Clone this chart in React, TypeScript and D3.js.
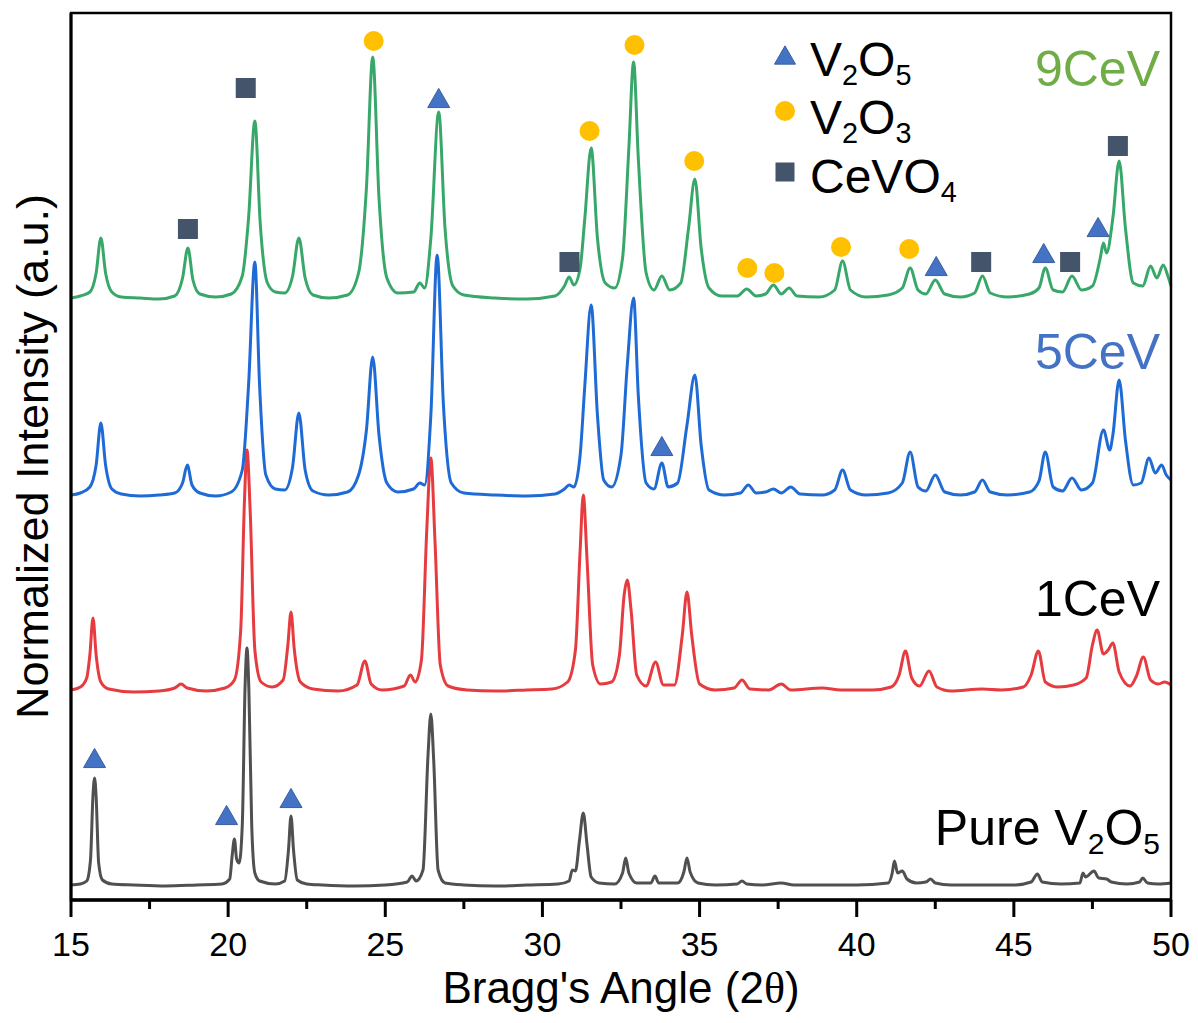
import * as d3 from "d3";

// XRD patterns, intensity in a.u. above each pattern's own baseline
const xTicks = [15, 20, 25, 30, 35, 40, 45, 50];
const xMinor = [17.5, 22.5, 27.5, 32.5, 37.5, 42.5, 47.5];

const names = ["Pure V2O5", "1CeV", "5CeV", "9CeV"];
const offsets = [15, 210, 405, 602];
const lineColors = ["#505050", "#e63c40", "#1f6bd6", "#38a86a"];

const pure = [
  [15.0, 0], [15.3, 1], [15.5, 4], [15.62, 25], [15.7, 90], [15.75, 107], [15.8, 88], [15.88, 22], [16.0, 5], [16.3, 1],
  [17.0, 0], [18.0, -1], [19.0, 0], [19.8, 1], [20.05, 6], [20.13, 30], [20.2, 46], [20.27, 26], [20.35, 22], [20.45, 60],
  [20.54, 200], [20.6, 237], [20.66, 195], [20.75, 60], [20.85, 12], [21.0, 4], [21.5, 1], [21.8, 4], [21.92, 35], [22.0, 69],
  [22.08, 35], [22.2, 5], [22.5, 1], [23.0, 0], [24.0, -1], [25.0, 0], [25.7, 3], [25.85, 9], [25.98, 4], [26.2, 15],
  [26.36, 130], [26.45, 171], [26.54, 125], [26.68, 15], [26.9, 2], [27.5, 0], [28.5, -1], [29.5, 0], [30.5, 1], [30.85, 4],
  [30.95, 15], [31.05, 14], [31.18, 45], [31.3, 72], [31.42, 40], [31.55, 8], [31.8, 2], [32.3, 1], [32.55, 12], [32.65, 27],
  [32.75, 12], [33.0, 2], [33.45, 2], [33.58, 9], [33.7, 2], [34.3, 2], [34.5, 13], [34.6, 27], [34.7, 13], [34.95, 2],
  [35.5, 0], [36.2, 1], [36.35, 4], [36.5, 1], [37.0, 0], [37.6, 2], [38.0, 0], [39.0, 0], [40.0, 0], [41.0, 2],
  [41.13, 12], [41.2, 24], [41.3, 12], [41.45, 14], [41.6, 6], [41.9, 2], [42.2, 3], [42.35, 6], [42.5, 2], [43.0, 0],
  [44.0, 0], [45.0, 0], [45.55, 3], [45.75, 11], [45.9, 3], [46.5, 1], [47.1, 2], [47.2, 12], [47.28, 8], [47.55, 14],
  [47.7, 7], [47.95, 6], [48.1, 3], [48.6, 1], [49.0, 3], [49.1, 7], [49.25, 2], [49.6, 1], [50.0, 2],
];

const ce1 = [
  [15.0, 0], [15.3, 3], [15.5, 12], [15.6, 35], [15.7, 72], [15.8, 35], [15.95, 8], [16.2, 1], [17.0, -2], [17.8, -1],
  [18.3, 2], [18.5, 6], [18.7, 2], [19.3, -1], [19.9, 2], [20.2, 10], [20.4, 60], [20.52, 190], [20.6, 240], [20.7, 180],
  [20.85, 40], [21.05, 8], [21.4, 3], [21.75, 10], [21.9, 45], [22.0, 78], [22.1, 42], [22.3, 8], [22.7, 1], [23.5, -1],
  [24.1, 5], [24.35, 29], [24.55, 6], [24.9, 0], [25.6, 4], [25.8, 15], [25.95, 8], [26.15, 30], [26.32, 160], [26.45, 232],
  [26.58, 150], [26.75, 25], [27.0, 4], [27.6, 0], [28.5, -1], [29.5, 0], [30.3, 1], [30.8, 8], [31.05, 40], [31.2, 140],
  [31.3, 195], [31.42, 130], [31.6, 25], [31.85, 6], [32.2, 8], [32.45, 35], [32.6, 95], [32.7, 110], [32.82, 80], [33.0, 15],
  [33.3, 4], [33.6, 28], [33.85, 5], [34.2, 5], [34.45, 55], [34.6, 98], [34.75, 55], [35.0, 6], [35.5, 0], [36.1, 2],
  [36.35, 10], [36.6, 1], [37.2, 0], [37.6, 6], [37.9, 0], [38.9, 2], [39.5, 0], [40.5, 0], [41.1, 3], [41.35, 15],
  [41.55, 39], [41.75, 12], [42.0, 4], [42.3, 19], [42.55, 3], [43.0, -1], [44.0, 1], [44.6, 0], [45.3, 3], [45.55, 15],
  [45.78, 39], [46.0, 8], [46.4, 3], [46.9, 5], [47.3, 12], [47.5, 45], [47.65, 60], [47.85, 36], [48.0, 40], [48.15, 47],
  [48.35, 18], [48.7, 4], [48.9, 14], [49.12, 33], [49.35, 10], [49.6, 6], [49.8, 8], [50.0, 5],
];

const ce5 = [
  [15.0, 0], [15.3, 2], [15.6, 8], [15.8, 30], [15.95, 72], [16.1, 30], [16.3, 6], [16.6, 1], [17.2, -1], [17.8, 0],
  [18.3, 2], [18.55, 12], [18.7, 30], [18.85, 10], [19.1, 2], [19.6, -1], [20.1, 3], [20.45, 25], [20.65, 110], [20.85, 233],
  [21.0, 110], [21.2, 20], [21.5, 6], [21.8, 5], [22.05, 28], [22.25, 82], [22.45, 25], [22.7, 4], [23.2, 0], [23.8, 3],
  [24.15, 20], [24.4, 65], [24.6, 138], [24.8, 60], [25.05, 12], [25.4, 3], [25.9, 6], [26.1, 12], [26.25, 10], [26.45, 80],
  [26.65, 240], [26.85, 90], [27.1, 12], [27.5, 2], [28.5, 0], [29.5, -1], [30.4, 1], [30.7, 6], [30.85, 10], [31.0, 8],
  [31.2, 40], [31.35, 110], [31.55, 190], [31.75, 80], [31.95, 15], [32.2, 8], [32.5, 40], [32.7, 130], [32.9, 197], [33.05, 100],
  [33.3, 12], [33.55, 6], [33.8, 32], [34.0, 8], [34.3, 12], [34.6, 70], [34.85, 120], [35.05, 50], [35.3, 5], [35.8, 0],
  [36.3, 2], [36.55, 10], [36.8, 2], [37.1, 3], [37.35, 6], [37.6, 2], [37.9, 8], [38.2, 1], [38.9, 0], [39.3, 5],
  [39.55, 25], [39.8, 5], [40.3, 0], [41.0, 2], [41.45, 12], [41.7, 43], [41.95, 8], [42.2, 4], [42.5, 20], [42.8, 3],
  [43.3, 0], [43.75, 3], [44.0, 15], [44.25, 3], [44.8, 0], [45.5, 3], [45.8, 14], [46.0, 43], [46.25, 8], [46.55, 4],
  [46.85, 17], [47.15, 5], [47.5, 12], [47.85, 65], [48.05, 45], [48.15, 60], [48.35, 115], [48.55, 55], [48.8, 10], [49.05, 12],
  [49.3, 37], [49.5, 22], [49.7, 30], [49.85, 20], [50.0, 15],
];

const ce9 = [
  [15.0, 0], [15.3, 2], [15.6, 6], [15.8, 25], [15.95, 60], [16.1, 25], [16.3, 6], [16.6, 1], [17.2, 0], [17.8, -1],
  [18.3, 2], [18.55, 20], [18.72, 50], [18.88, 18], [19.1, 4], [19.6, 1], [20.1, 4], [20.45, 22], [20.65, 80], [20.85, 177],
  [21.02, 75], [21.25, 15], [21.5, 6], [21.8, 5], [22.05, 22], [22.25, 60], [22.45, 20], [22.7, 3], [23.2, 0], [23.8, 3],
  [24.15, 25], [24.4, 110], [24.6, 241], [24.8, 100], [25.05, 20], [25.4, 5], [25.9, 6], [26.1, 15], [26.25, 10], [26.45, 60],
  [26.7, 186], [26.9, 70], [27.15, 12], [27.5, 3], [28.5, 0], [29.5, -1], [30.4, 2], [30.7, 12], [30.85, 21], [31.0, 13],
  [31.2, 30], [31.35, 80], [31.55, 150], [31.75, 60], [32.0, 15], [32.3, 10], [32.55, 40], [32.75, 150], [32.9, 236], [33.05, 140],
  [33.3, 25], [33.55, 8], [33.8, 22], [34.05, 8], [34.4, 15], [34.65, 70], [34.85, 119], [35.05, 50], [35.3, 10], [35.7, 2],
  [36.2, 2], [36.5, 9], [36.8, 2], [37.1, 4], [37.35, 13], [37.6, 4], [37.85, 10], [38.1, 2], [38.8, 1], [39.3, 8],
  [39.55, 37], [39.8, 8], [40.3, 1], [41.0, 3], [41.45, 10], [41.7, 30], [41.95, 8], [42.2, 4], [42.5, 18], [42.8, 4],
  [43.3, 1], [43.75, 5], [44.0, 22], [44.25, 5], [44.8, 1], [45.5, 4], [45.8, 10], [46.0, 30], [46.25, 8], [46.55, 6],
  [46.85, 22], [47.15, 8], [47.5, 12], [47.75, 40], [47.85, 55], [47.95, 45], [48.15, 80], [48.35, 137], [48.55, 70], [48.8, 15],
  [49.1, 12], [49.35, 32], [49.55, 20], [49.75, 33], [49.9, 22], [50.0, 12],
];

const patterns = [pure, ce1, ce5, ce9];

// phase markers: [2θ, absolute intensity level]
const v2o5Marks = [[15.75, 142], [19.95, 85], [22.0, 102], [26.7, 802], [33.8, 454], [42.53, 634], [45.95, 647], [47.68, 673]];
const v2o3Marks = [[24.63, 859], [31.5, 769], [32.93, 855], [34.83, 739], [36.52, 632], [37.38, 627], [39.5, 653], [41.67, 651]];
const cevo4Marks = [[18.72, 671], [20.56, 812], [30.86, 638], [43.96, 638], [46.79, 638], [48.31, 754]];

const W = 1198;
const H = 1023;
const m = { left: 71, right: 25, top: 13, bottom: 123 };
const font = "'Liberation Sans', Arial, sans-serif";

const triColor = "#4472c4";
const circColor = "#ffc000";
const sqColor = "#44546a";

function Triangle({ x, y, s = 22 }: { x: number; y: number; s?: number }) {
  const h = s * 0.87;
  return (
    <path
      d={`M${x},${y - h / 2} L${x + s / 2},${y + h / 2} L${x - s / 2},${y + h / 2} Z`}
      fill={triColor}
      stroke="#3a5f9e"
      strokeWidth={1}
    />
  );
}

function Circle({ x, y, r = 10 }: { x: number; y: number; r?: number }) {
  return <circle cx={x} cy={y} r={r} fill={circColor} />;
}

function Square({ x, y, s = 20 }: { x: number; y: number; s?: number }) {
  return <rect x={x - s / 2} y={y - s / 2} width={s} height={s} fill={sqColor} />;
}

function Formula({ x, y, parts, color = "#000", anchor = "start", size = 50 }: any) {
  // parts: [text, isSub]
  return (
    <text x={x} y={y} fill={color} textAnchor={anchor} fontSize={size} fontFamily={font}>
      {parts.map(([t, sub]: [string, boolean], i: number) => {
        const prevSub = i > 0 && parts[i - 1][1];
        const dy = sub && !prevSub ? 9 : !sub && prevSub ? -9 : 0;
        return (
          <tspan key={i} dy={dy} fontSize={sub ? size * 0.6 : size}>
            {t}
          </tspan>
        );
      })}
    </text>
  );
}

export default function App() {
  const x = d3.scaleLinear().domain([15, 50]).range([m.left, W - m.right - 2]);
  const y = d3.scaleLinear().domain([0, 887]).range([H - m.bottom, m.top]);
  const x0 = m.left;
  const x1 = W - m.right - 2;
  const y0 = H - m.bottom;
  const y1 = m.top;

  const line = (off: number) =>
    d3
      .line<number[]>()
      .x((d) => x(d[0]))
      .y((d) => y(d[1] + off))
      .curve(d3.curveMonotoneX);

  return (
    <div style={{ position: "absolute", left: 0, top: 0 }}>
      <svg width={W} height={H} style={{ display: "block", background: "#fff" }}>
        {patterns.map((p, i) => (
          <path
            key={names[i]}
            d={line(offsets[i])(p) || ""}
            fill="none"
            stroke={lineColors[i]}
            strokeWidth={3}
            strokeLinejoin="round"
          />
        ))}

        {v2o5Marks.map((d, i) => (
          <Triangle key={"t" + i} x={x(d[0])} y={y(d[1])} />
        ))}
        {v2o3Marks.map((d, i) => (
          <Circle key={"c" + i} x={x(d[0])} y={y(d[1])} />
        ))}
        {cevo4Marks.map((d, i) => (
          <Square key={"s" + i} x={x(d[0])} y={y(d[1])} />
        ))}

        {/* frame */}
        <rect x={x0} y={y1} width={x1 - x0} height={y0 - y1} fill="none" stroke="#000" strokeWidth={2.5} />
        <line x1={x0 - 1} x2={x1 + 1} y1={y0} y2={y0} stroke="#000" strokeWidth={3.5} />
        <line x1={x0} x2={x0} y1={y1} y2={y0} stroke="#000" strokeWidth={3} />

        {xTicks.map((t) => (
          <g key={t} transform={`translate(${x(t)},${y0})`}>
            <line y1={0} y2={17} stroke="#000" strokeWidth={3} />
            <text y={56} textAnchor="middle" fontSize={34} fontFamily={font}>
              {t}
            </text>
          </g>
        ))}
        {xMinor.map((t) => (
          <line key={t} x1={x(t)} x2={x(t)} y1={y0} y2={y0 + 9} stroke="#000" strokeWidth={3} />
        ))}

        <text x={(x0 + x1) / 2} y={1003} textAnchor="middle" fontSize={44} fontFamily={font}>
          Bragg's Angle (2
          <tspan fontFamily="'Liberation Serif', 'DejaVu Serif', serif">θ</tspan>)
        </text>
        <text
          transform={`translate(48,${(y0 + y1) / 2}) rotate(-90)`}
          textAnchor="middle"
          fontSize={45}
          fontFamily={font}
        >
          Normalized Intensity (a.u.)
        </text>

        {/* series labels */}
        <Formula x={1160} y={86} anchor="end" color="#70ad47" parts={[["9CeV", false]]} />
        <Formula x={1160} y={369} anchor="end" color="#4472c4" parts={[["5CeV", false]]} />
        <Formula x={1160} y={616} anchor="end" parts={[["1CeV", false]]} />
        <Formula
          x={1160}
          y={845}
          anchor="end"
          parts={[["Pure V", false], ["2", true], ["O", false], ["5", true]]}
        />

        {/* legend */}
        <Triangle x={785} y={55} s={21} />
        <Formula x={810} y={76} size={48} parts={[["V", false], ["2", true], ["O", false], ["5", true]]} />
        <Circle x={785} y={111} r={10} />
        <Formula x={810} y={134} size={48} parts={[["V", false], ["2", true], ["O", false], ["3", true]]} />
        <Square x={785} y={172} s={19} />
        <Formula x={810} y={193} size={48} parts={[["CeVO", false], ["4", true]]} />
      </svg>
    </div>
  );
}
